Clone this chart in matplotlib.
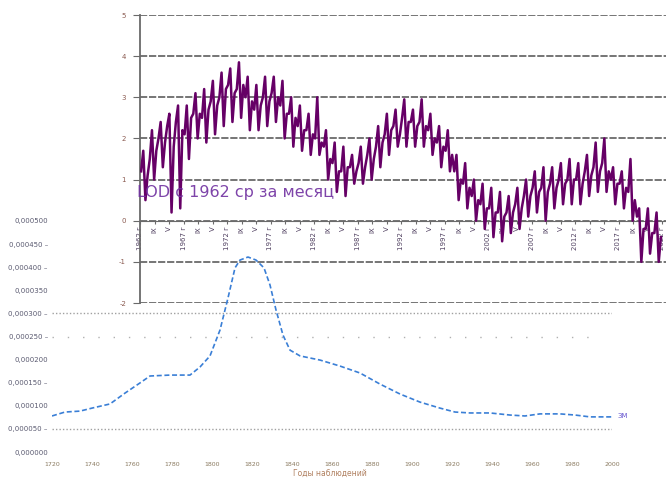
import matplotlib
matplotlib.use('Agg')
import matplotlib.pyplot as plt

W, H = 666, 478

# LOD, quarterly values (ms), one row per year from 1962
lod_start = 1962
lod_quarters = [
    [1.2, 1.7, 0.5, 1.1], [1.5, 2.2, 1.0, 1.7], [2.0, 2.4, 1.3, 1.9], [2.3, 2.6, 0.2, 1.8],
    [2.4, 2.8, 0.3, 2.2], [2.1, 2.8, 1.5, 2.5], [2.6, 3.1, 2.0, 2.6], [2.5, 3.2, 1.9, 2.7],
    [2.9, 3.4, 2.1, 2.8], [3.0, 3.6, 2.3, 3.2], [3.3, 3.7, 2.4, 3.1], [3.2, 3.85, 2.5, 3.3],
    [3.0, 3.5, 2.2, 2.9], [2.7, 3.3, 2.2, 2.8], [3.0, 3.5, 2.3, 2.9], [3.1, 3.5, 2.4, 3.0],
    [2.8, 3.4, 2.0, 2.6], [2.6, 3.0, 1.8, 2.5], [2.3, 2.8, 1.7, 2.2], [2.2, 2.6, 1.6, 2.1],
    [2.0, 3.0, 1.6, 1.9], [1.8, 2.2, 1.0, 1.5], [1.4, 1.9, 0.7, 1.2], [1.2, 1.8, 0.6, 1.3],
    [1.3, 1.6, 0.9, 1.2], [1.4, 1.8, 0.9, 1.3], [1.6, 2.0, 1.0, 1.5], [1.8, 2.3, 1.3, 1.9],
    [2.1, 2.6, 1.6, 2.2], [2.3, 2.7, 1.8, 2.1], [2.5, 2.95, 1.8, 2.4], [2.4, 2.7, 1.8, 2.3],
    [2.4, 2.95, 1.8, 2.3], [2.2, 2.6, 1.6, 2.0], [1.9, 2.3, 1.3, 1.8], [1.7, 2.2, 1.2, 1.6],
    [1.2, 1.6, 0.5, 1.0], [0.9, 1.4, 0.3, 0.8], [0.6, 1.0, 0.0, 0.5], [0.4, 0.9, -0.2, 0.3],
    [0.3, 0.8, -0.4, 0.2], [0.2, 0.7, -0.5, 0.1], [0.2, 0.6, -0.3, 0.2], [0.4, 0.8, -0.2, 0.3],
    [0.6, 1.0, 0.1, 0.6], [0.8, 1.2, 0.2, 0.7], [0.8, 1.3, 0.0, 0.7], [0.9, 1.3, 0.3, 0.8],
    [1.0, 1.4, 0.4, 0.9], [1.0, 1.5, 0.4, 1.0], [1.0, 1.4, 0.4, 0.9], [1.2, 1.6, 0.6, 1.1],
    [1.3, 1.9, 0.7, 1.2], [1.4, 2.0, 0.7, 1.2], [1.0, 1.3, 0.4, 0.9], [0.9, 1.2, 0.3, 0.8],
    [0.7, 1.5, 0.0, 0.5], [0.1, 0.3, -1.0, -0.2], [-0.2, 0.3, -0.8, -0.3], [-0.3, 0.2, -1.0, -0.4],
]
lod_yticks = [-2, -1, 0, 1, 2, 3, 4, 5]
lod_xtick_step = 20  # months between category labels
lod_month_labels = ['IX', 'V']

# second (overlaid) chart, blue dashed curve
hist_years = [1720, 1726.5, 1734, 1740, 1749, 1756.5, 1764, 1769, 1779, 1789, 1794, 1799,
              1804, 1808, 1811.5, 1814, 1818, 1822, 1826, 1829, 1832, 1835.5, 1839, 1844,
              1854, 1864, 1874, 1884, 1894, 1904, 1914, 1921.5, 1929, 1939, 1949, 1956.5,
              1964, 1974, 1981.5, 1989, 2000]
hist_vals = [1.56, 1.73, 1.77, 1.9, 2.08, 2.55, 2.99, 3.29, 3.33, 3.33, 3.68, 4.16,
             5.28, 6.67, 7.97, 8.31, 8.44, 8.31, 7.97, 7.23, 6.15, 5.06, 4.41, 4.16,
             3.98, 3.72, 3.42, 2.94, 2.51, 2.16, 1.9, 1.73, 1.69, 1.69, 1.6, 1.56,
             1.65, 1.65, 1.6, 1.52, 1.52]
hist_xticks = list(range(1720, 2001, 20))
hist_ylabels = ['0,000500', '0,000450 –', '0,000400 –', '0,000350', '0,000300 –', '0,000250 –',
                '0,000200', '0,000150 –', '0,000100', '0,000050 –', '0,000000']

fig = plt.figure(figsize=(W / 100, H / 100), dpi=100)

# ---- top chart: LOD since 1962
ax1 = fig.add_axes([140 / W, (H - 303) / H, (700 - 140) / W, 288 / H])
ax1.spines['bottom'].set_position(('data', 0))  # before the ticks, it resets them
x_lod = []
y_lod = []
for i, row in enumerate(lod_quarters):
    for q, v in enumerate(row):
        x_lod.append(lod_start + i + q / 4 + 0.125)
        y_lod.append(v)
ax1.plot(x_lod, y_lod, color='#660066', lw=1.8, zorder=3)
ax1.set_xlim(1962, 1962 + 560 / 8.7)
ax1.set_ylim(-2, 5)
ax1.set_yticks(lod_yticks)
ax1.set_yticklabels([str(v) for v in lod_yticks])
for v in lod_yticks:
    ax1.axhline(v, color='#6a6a6a', lw=1.3, ls=(0, (4, 1)), zorder=1)

ticks = []
labels = []
for k in range(37):
    ticks.append(1962 + k * lod_xtick_step / 12)
    if k % 3 == 0:
        labels.append('%d г' % (1962 + 5 * (k // 3)))
    else:
        labels.append(lod_month_labels[k % 3 - 1])
ax1.set_xticks(ticks)
ax1.set_xticklabels(labels, rotation=90, fontsize=5, color='#504060')
for s in ['top', 'right']:
    ax1.spines[s].set_visible(False)
ax1.spines['bottom'].set_color('#6a6a6a')
ax1.spines['left'].set_color('#6a6a6a')
ax1.spines['left'].set_linewidth(1.3)
ax1.tick_params(axis='x', length=2, pad=2, color='#6a6a6a')
ax1.tick_params(axis='y', length=5, pad=5, labelsize=5, labelcolor='#8a5a50', color='#6a6a6a')
ax1.patch.set_alpha(0)

fig.text(137 / W, (H - 192) / H, 'LOD c 1962 ср за месяц', va='center', ha='left',
         fontsize=11.5, color='#7030A0', alpha=0.9)

# ---- overlaid chart
ax2 = fig.add_axes([52 / W, (H - 452) / H, (612 - 52) / W, (452 - 221) / H])
ax2.patch.set_alpha(0)
ax2.plot(hist_years, hist_vals, color='#3a7fd6', lw=1.2, ls=(0, (3, 1.6)), zorder=4)
ax2.set_xlim(1720, 2000)
ax2.set_ylim(0, 10)
ax2.set_yticks(range(10, -1, -1))
ax2.set_yticklabels(hist_ylabels, fontsize=5, color='#5a5a70')
ax2.set_xticks(hist_xticks)
ax2.set_xticklabels([str(v) for v in hist_xticks], fontsize=4.5, color='#8a7a60')
ax2.tick_params(length=0, pad=3)
ax2.tick_params(axis='x', pad=7)
for s in ax2.spines.values():
    s.set_visible(False)
ax2.axhline(6, xmin=0, xmax=1.0, color='#a0a0a0', lw=1.0, ls=(0, (1, 1.5)))
ax2.axhline(1, xmin=0, xmax=1.0, color='#a0a0a0', lw=1.0, ls=(0, (1, 1.5)))
ax2.axhline(5, xmin=0, xmax=0.98, color='#b0b0b0', lw=1.0, ls=(0, (1, 10)))
ax2.text(2003, 1.56, 'ЗМ', fontsize=5, color='#6a5ad0', va='center', ha='left')

fig.text(330 / W, 5 / H, 'Годы наблюдений', fontsize=5.5, color='#b08060', ha='center', va='center')

fig.savefig('out.png', dpi=100)
